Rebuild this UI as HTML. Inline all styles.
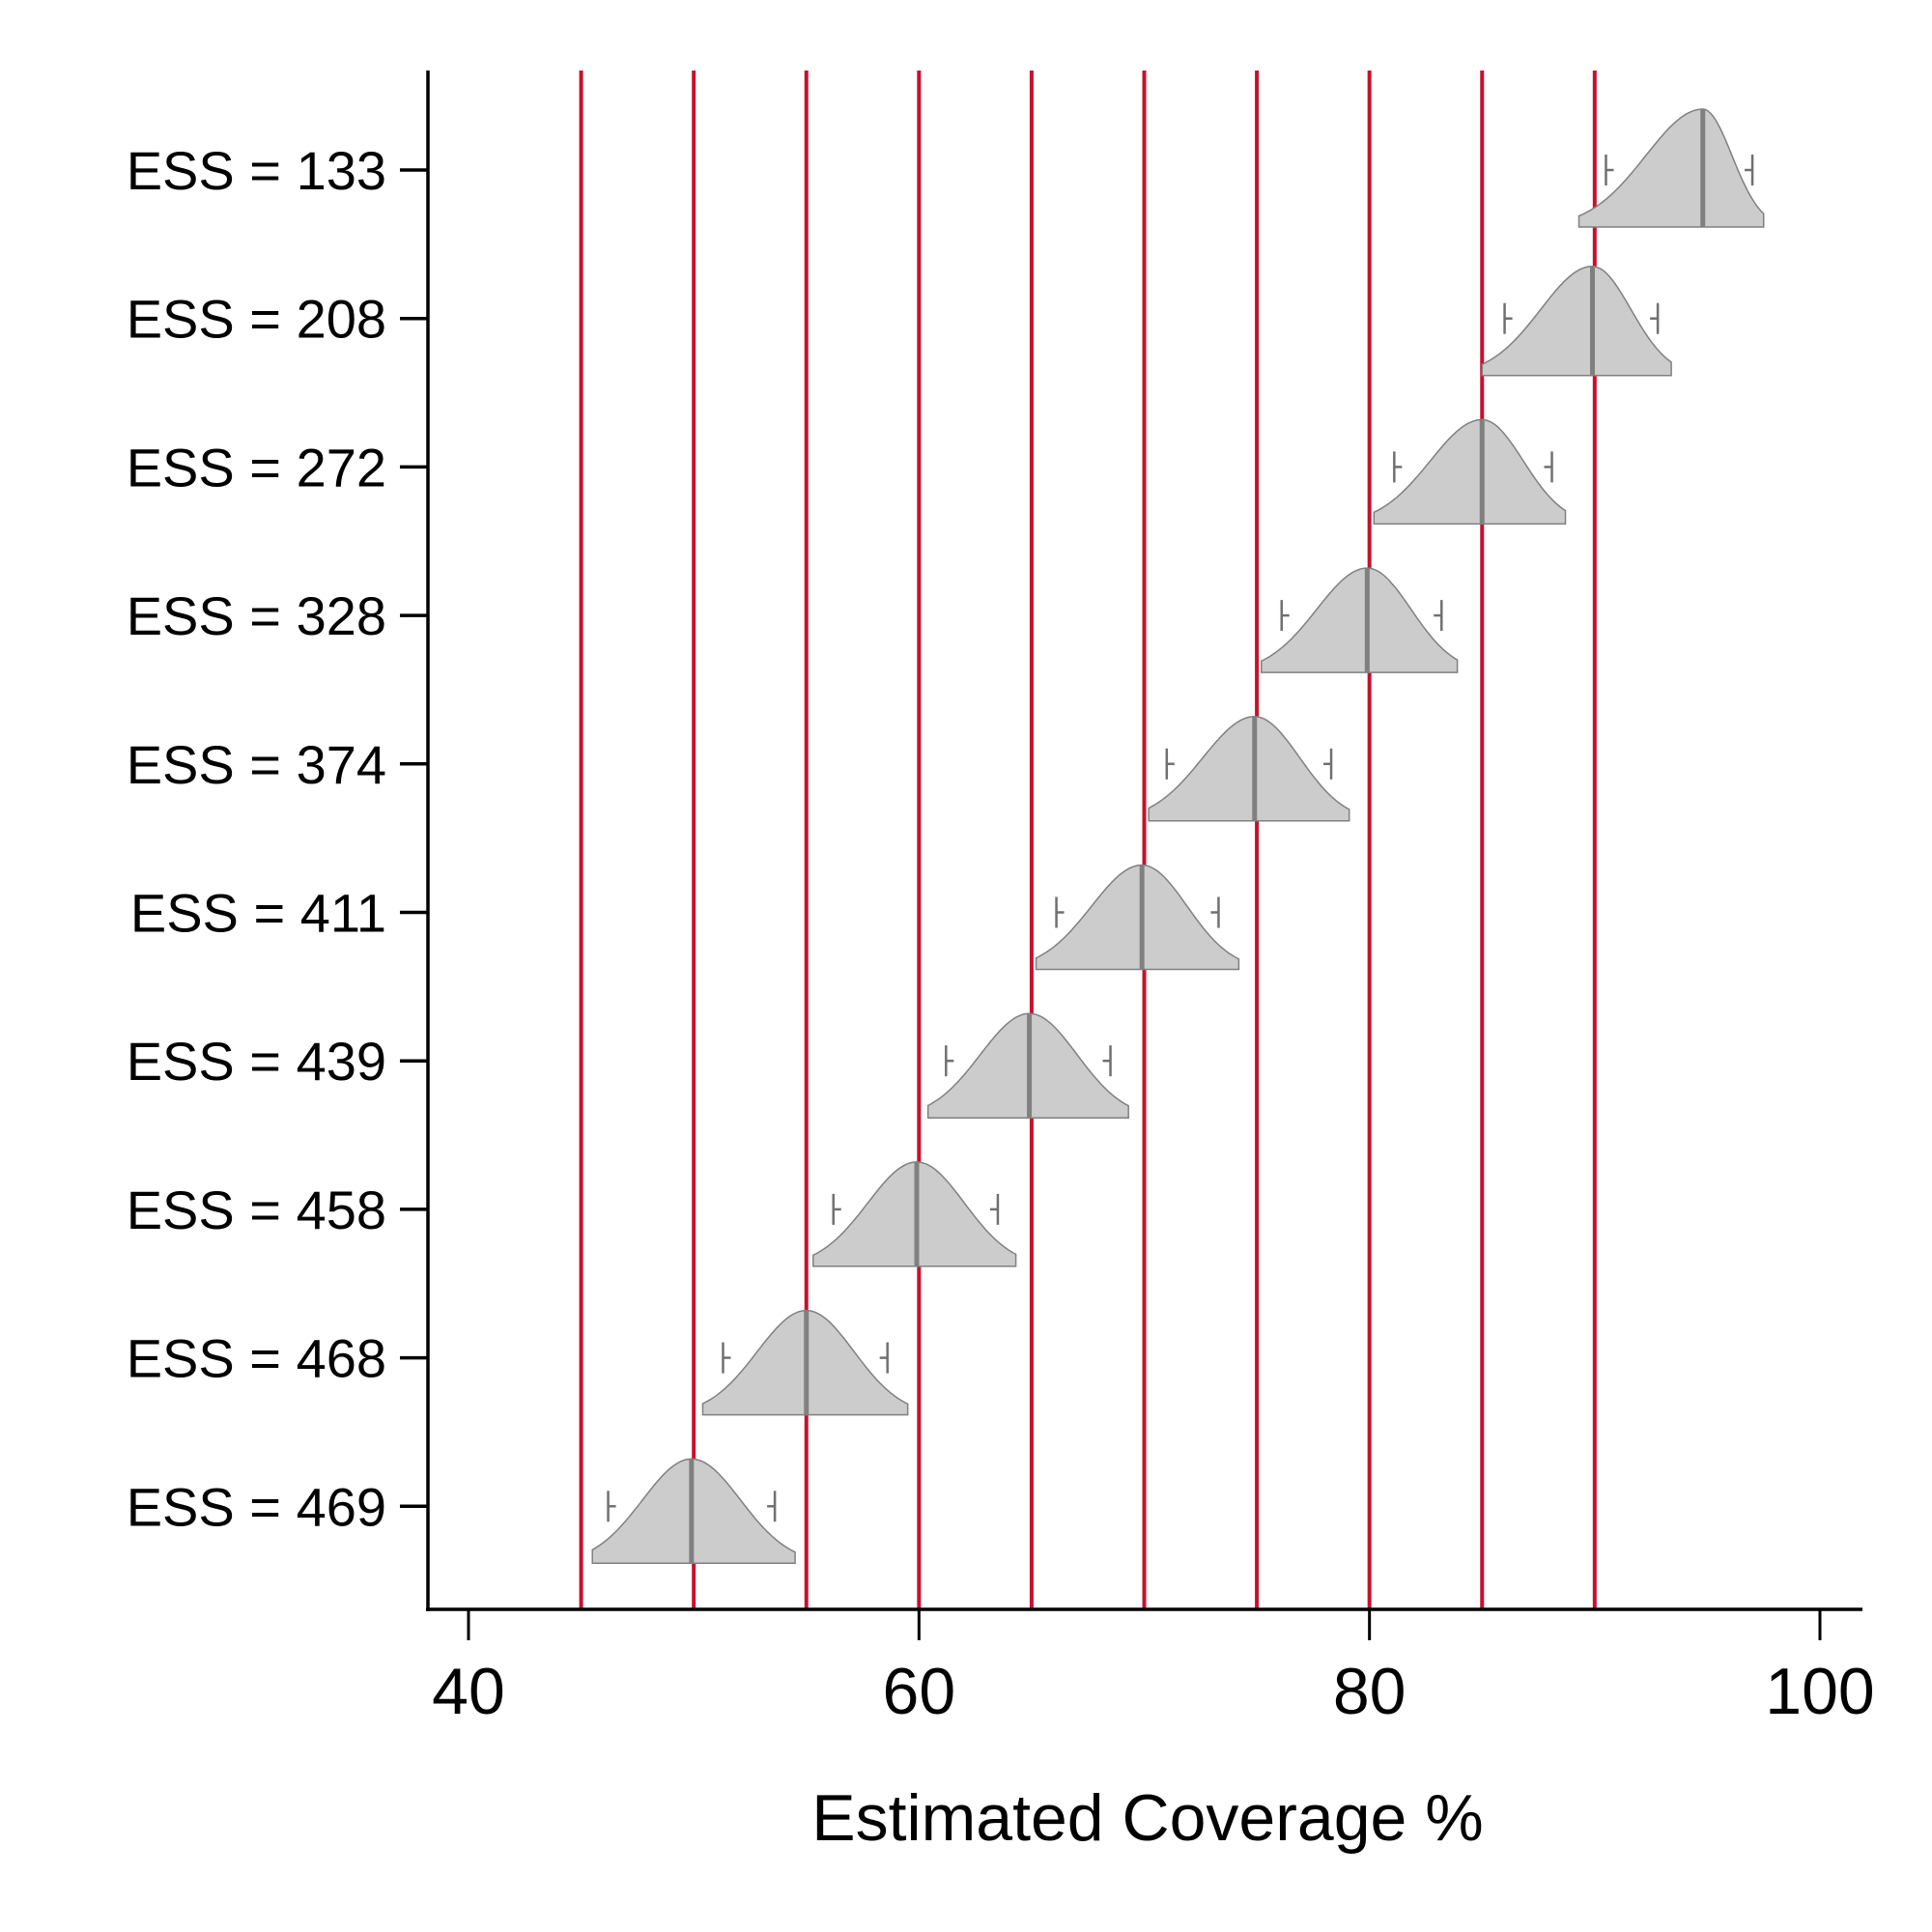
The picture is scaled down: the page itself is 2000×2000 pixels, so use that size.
<!DOCTYPE html>
<html><head><meta charset="utf-8"><style>
html,body{margin:0;padding:0;background:#fff;}
svg{display:block;font-family:"Liberation Sans",sans-serif;}
</style></head><body>
<svg id="chart" width="2000" height="2000" viewBox="0 0 2000 2000" xmlns="http://www.w3.org/2000/svg">
<g id="reflines"></g>
<g id="violins"></g>
<g id="axes"></g>
</svg>
<script>
const labels = ["ESS = 133","ESS = 208","ESS = 272","ESS = 328","ESS = 374","ESS = 411","ESS = 439","ESS = 458","ESS = 468","ESS = 469"];
const medians = [94.8,89.9,85.0,79.9,74.9,69.9,64.9,59.9,55.0,49.9];
const mins = [89.3,85.0,80.2,75.2,70.2,65.2,60.4,55.3,50.4,45.5];
const maxs = [97.5,93.4,88.7,83.9,79.1,74.2,69.3,64.3,59.5,54.5];
const ciLo = [90.5,86.0,81.1,76.1,71.0,66.1,61.2,56.2,51.3,46.2];
const ciHi = [97.0,92.8,88.1,83.2,78.3,73.3,68.5,63.5,58.6,53.6];
const refValues = [45,50,55,60,65,70,75,80,85,90];
const xTicks = [40,60,80,100];
const xTickLabels = ["40","60","80","100"];

const NS="http://www.w3.org/2000/svg";
const x = v => 485 + (v-40)*(1884-485)/60;
const y = i => 176 + i*153.7;
function mk(tag, attrs, parent){const e=document.createElementNS(NS,tag);for(const k in attrs)e.setAttribute(k,attrs[k]);parent.appendChild(e);return e;}
const gRef=document.getElementById('reflines'), gV=document.getElementById('violins'), gA=document.getElementById('axes');

refValues.forEach(v=>{
  const l=mk('line',{x1:x(v),x2:x(v),y1:73,y2:1666,stroke:'#c8102e','stroke-width':4},gRef);
  
  
});

labels.forEach((lab,i)=>{
  const cy=y(i), base=cy+59, peak=(i===0?122:(i===1?113:108));
  const sl=(medians[i]-ciLo[i])/1.7, sr=(ciHi[i]-medians[i])/1.7;
  let pts=[];
  const N=80;
  for(let k=0;k<=N;k++){
    const v=mins[i]+(maxs[i]-mins[i])*k/N;
    const s=v<medians[i]?sl:sr;
    const d=Math.exp(-0.5*Math.pow((v-medians[i])/s,2));
    pts.push([x(v), base-peak*d]);
  }
  let dstr='M'+x(mins[i])+','+base+' '+pts.map(p=>'L'+p[0].toFixed(1)+','+p[1].toFixed(1)).join(' ')+' L'+x(maxs[i])+','+base+' Z';
  const g=mk('g',{},gV);
  
  
  const p=mk('path',{d:dstr,fill:'#cccccc',stroke:'#808080','stroke-width':1.5},g);
  
  
  const m=mk('line',{x1:x(medians[i]),x2:x(medians[i]),y1:base,y2:base-peak,stroke:'#808080','stroke-width':5},g);
  
  
  [[ciLo[i],1],[ciHi[i],-1]].forEach(([v,dir])=>{
    const a=mk('line',{x1:x(v),x2:x(v),y1:cy-16,y2:cy+16,stroke:'#707070','stroke-width':2.5},g);
    
    
    const b=mk('line',{x1:x(v),x2:x(v)+dir*8,y1:cy,y2:cy,stroke:'#707070','stroke-width':2.5},g);
    
    
  });
  const t=mk('line',{x1:414,x2:442,y1:cy,y2:cy,stroke:'#000','stroke-width':3.5},gA);
  
  
  const tx=mk('text',{x:400,y:cy+20,'text-anchor':'end','font-size':56,fill:'#000'},gA);
  tx.textContent=lab;
  
  
});

const ya=mk('line',{x1:443,x2:443,y1:73,y2:1668,stroke:'#000','stroke-width':3.5},gA);


const xa=mk('line',{x1:441,x2:1928,y1:1666,y2:1666,stroke:'#000','stroke-width':3.5},gA);


xTicks.forEach((v,j)=>{
  const t=mk('line',{x1:x(v),x2:x(v),y1:1666,y2:1698,stroke:'#000','stroke-width':3},gA);
  
  
  const tx=mk('text',{x:x(v),y:1774,'text-anchor':'middle','font-size':68,fill:'#000'},gA);
  tx.textContent=xTickLabels[j];
  
  
});
const title=mk('text',{x:1188,y:1905,'text-anchor':'middle','font-size':68,fill:'#000'},gA);
title.textContent='Estimated Coverage %';


</script>
</body></html>
